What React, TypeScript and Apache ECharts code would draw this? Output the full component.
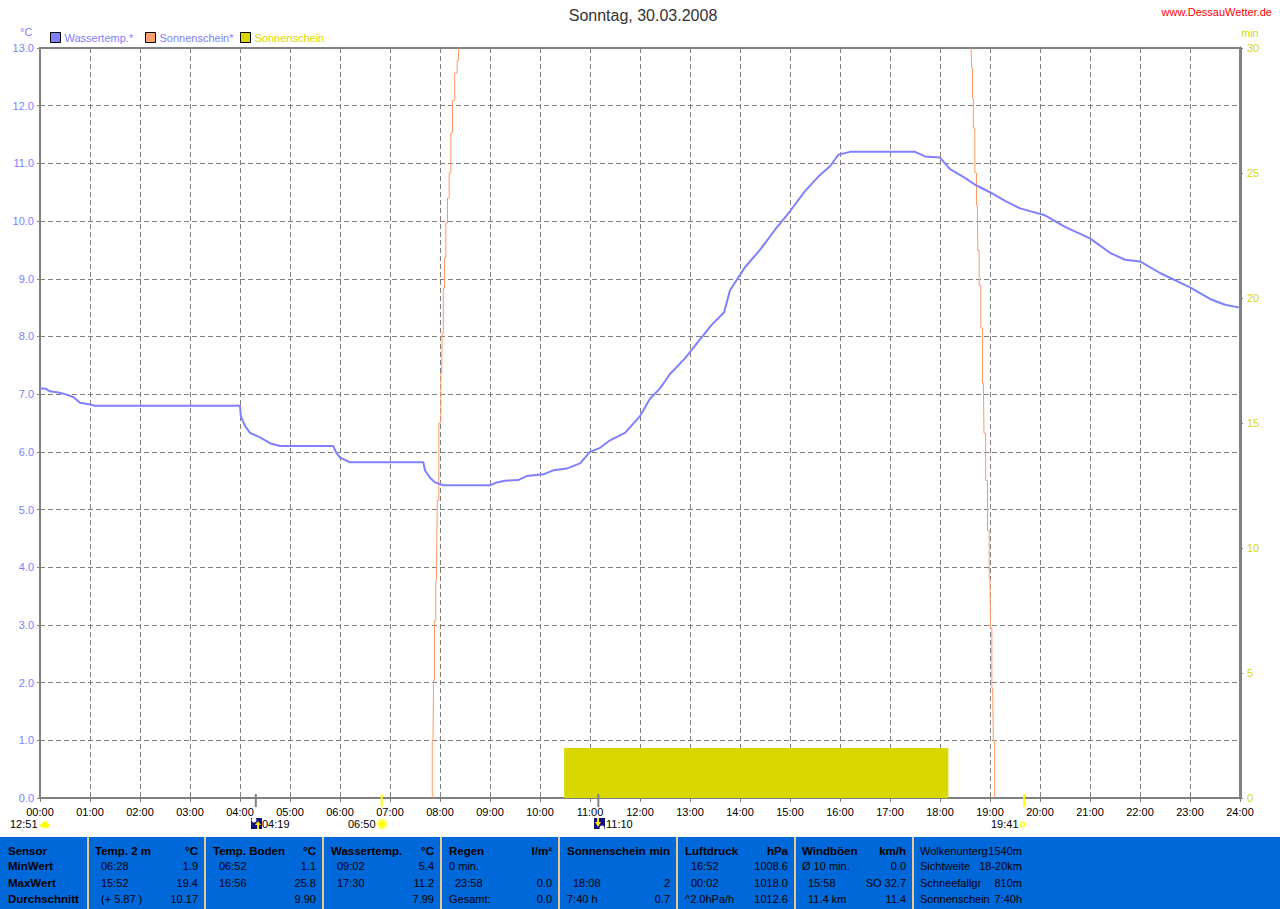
import React, { useEffect, useRef } from "react";
import * as echarts from "echarts";

const FONT = "'Liberation Sans', Arial, sans-serif";
const BLUE = "#8080ff";
const ORANGE = "#ff9966";
const YELLOW = "#d8d800";
const GRAY = "#808080";

const title = "Sonntag, 30.03.2008";
const site = "www.DessauWetter.de";
const hourLabels = Array.from({ length: 25 }, (_, h) => String(h).padStart(2, "0") + ":00");

// [minute of day, °C]
const waterTemp = [
  [0, 7.1], [6, 7.1], [12, 7.05], [22, 7.03], [30, 7.0], [40, 6.95], [48, 6.85], [60, 6.82], [66, 6.8],
  [240, 6.8], [241, 6.62], [246, 6.45], [252, 6.33], [264, 6.25], [276, 6.15], [288, 6.1],
  [352, 6.1], [355, 6.0], [360, 5.9], [372, 5.82], [460, 5.82], [462, 5.68], [468, 5.55], [474, 5.47], [484, 5.42],
  [540, 5.42], [548, 5.47], [558, 5.5], [574, 5.51], [584, 5.58], [604, 5.61], [616, 5.68], [632, 5.71],
  [648, 5.8], [660, 6.0], [672, 6.07], [684, 6.2], [702, 6.33], [720, 6.62], [732, 6.92], [744, 7.1],
  [756, 7.35], [774, 7.62], [792, 7.95], [806, 8.2], [821, 8.42], [828, 8.8], [846, 9.2], [864, 9.5],
  [882, 9.85], [900, 10.17], [918, 10.52], [936, 10.8], [948, 10.95], [958, 11.15], [972, 11.2],
  [1050, 11.2], [1062, 11.12], [1080, 11.1], [1092, 10.9], [1110, 10.75], [1122, 10.63], [1140, 10.5],
  [1158, 10.35], [1176, 10.22], [1206, 10.1], [1230, 9.9], [1260, 9.7], [1284, 9.45], [1302, 9.33],
  [1320, 9.3], [1344, 9.1], [1380, 8.85], [1404, 8.65], [1422, 8.55], [1440, 8.5],
];

// [minute of day, min]
const sunDerived = [
  [469.8, 0], [471.6, 2.3], [472.8, 4.7], [474, 7.1], [475.8, 8.7], [476.4, 10.3], [477.2, 11.9],
  [480, 15], [482, 17], [483.2, 18.6], [484.8, 20.4], [486, 21.6], [488, 23], [490, 24], [492, 25],
  [494, 26.6], [496, 27.9], [499.2, 29], [502, 29.5], [503, 30], [504.6, 30.5],
];
const sunDerivedEvening = [
  [1117.2, 30.1], [1118.8, 29.2], [1119.2, 28], [1120.8, 26.8], [1122.8, 25], [1124.8, 23.7], [1126, 21.9],
  [1128, 20.5], [1130, 18.8], [1132, 16.6], [1133.6, 14.6], [1136, 12.7], [1138, 10.7], [1140, 8.8],
  [1141.2, 6.8], [1143.2, 4.4], [1144.8, 2.3], [1146.4, 0],
];
const sunshine = [[629, 2], [1090, 2]];

// [minute of day, tick colour]
const eventTicks: [number, string][] = [[259, GRAY], [410, "#ffff00"], [670, GRAY], [1181, "#ffff00"]];
const eventLabels = ["12:51", "04:19", "06:50", "11:10", "19:41"];

const tableHeaders = [
  ["Sensor", ""], ["Temp. 2 m", "°C"], ["Temp. Boden", "°C"], ["Wassertemp.", "°C"], ["Regen", "l/m²"],
  ["Sonnenschein", "min"], ["Luftdruck", "hPa"], ["Windböen", "km/h"],
];
const rowNames = ["MinWert", "MaxWert", "Durchschnitt"];
// [left text, indent, right text] per row
const tableRows: [string, number, string][][] = [
  [["06:28", 6, "1.9"], ["15:52", 6, "19.4"], ["(+ 5.87 )", 6, "10.17"]],
  [["06:52", 6, "1.1"], ["16:56", 6, "25.8"], ["", 0, "9.90"]],
  [["09:02", 6, "5.4"], ["17:30", 6, "11.2"], ["", 0, "7.99"]],
  [["0 min.", 0, ""], ["23:58", 6, "0.0"], ["Gesamt:", 0, "0.0"]],
  [["", 0, ""], ["18:08", 6, "2"], ["7:40 h", 0, "0.7"]],
  [["16:52", 6, "1008.6"], ["00:02", 6, "1018.0"], ["^2.0hPa/h", 0, "1012.6"]],
  [["Ø 10 min.", 0, "0.0"], ["15:58", 6, "SO 32.7"], ["11.4 km", 6, "11.4"]],
];
const extraRows = [
  ["Wolkenunterg", "1540m"], ["Sichtweite", "18-20km"], ["Schneefallgr", "810m"], ["Sonnenschein", "7:40h"],
];

function tableGraphics(): any[] {
  const out: any[] = [{ type: "rect", shape: { x: 0, y: 837, width: 1280, height: 72 }, style: { fill: "#0068d8" } }];
  const seps = [88, 205, 323, 441, 559, 677, 795, 913];
  seps.forEach((x) =>
    out.push({ type: "rect", shape: { x: x - 1, y: 837, width: 2, height: 72 }, style: { fill: "#e8c890" } })
  );
  const rowY = [851, 866, 883, 899];
  const colL = [8, 95, 213, 331, 449, 567, 685, 802];
  const colR = [0, 198, 316, 434, 552, 670, 788, 906];
  const txt = (x: number, y: number, text: string, bold = false, align = "left") => ({
    type: "text",
    x,
    y,
    style: {
      text,
      fill: "#000",
      font: `${bold ? "bold 11.5px" : "11px"} ${FONT}`,
      textAlign: align,
      textVerticalAlign: "middle",
    },
  });
  tableHeaders.forEach((h, i) => {
    out.push(txt(colL[i], rowY[0], h[0], true));
    if (h[1]) out.push(txt(colR[i], rowY[0], h[1], true, "right"));
  });
  rowNames.forEach((n, r) => out.push(txt(8, rowY[r + 1], n, true)));
  tableRows.forEach((col, c) =>
    col.forEach((cell, r) => {
      if (cell[0]) out.push(txt(colL[c + 1] + cell[1], rowY[r + 1], cell[0]));
      if (cell[2]) out.push(txt(colR[c + 1], rowY[r + 1], cell[2], false, "right"));
    })
  );
  extraRows.forEach((row, r) => {
    out.push(txt(920, rowY[r], row[0]));
    out.push(txt(1022, rowY[r], row[1], false, "right"));
  });
  return out;
}

function eventGraphics(): any[] {
  const lab = (x: number, text: string) => ({
    type: "text",
    x,
    y: 824,
    style: { text, fill: "#000", font: `11px ${FONT}`, textVerticalAlign: "middle" },
  });
  const out: any[] = [
    lab(10, eventLabels[0]),
    lab(262, eventLabels[1]),
    lab(348, eventLabels[2]),
    lab(606, eventLabels[3]),
    lab(991, eventLabels[4]),
    // moon-phase cloud
    { type: "ellipse", shape: { cx: 45, cy: 825.5, rx: 5, ry: 2.5 }, style: { fill: "#ffff00" } },
    { type: "circle", shape: { cx: 45, cy: 823.5, r: 2.5 }, style: { fill: "#ffff00" } },
    // moonrise
    { type: "rect", shape: { x: 251, y: 818, width: 11, height: 11 }, style: { fill: "#101080" } },
    { type: "circle", shape: { cx: 254, cy: 820, r: 2.5 }, style: { fill: "#fff" } },
    { type: "polygon", shape: { points: [[258, 821], [261, 825], [259, 825], [259, 829], [257, 829], [257, 825], [255, 825]] }, style: { fill: "#ffe000" } },
    // sunrise
    { type: "circle", shape: { cx: 382, cy: 824, r: 6 }, style: { fill: "#ffffa0" } },
    { type: "circle", shape: { cx: 382, cy: 824, r: 3.5 }, style: { fill: "#ffff00" } },
    // moonset
    { type: "rect", shape: { x: 594, y: 818, width: 11, height: 11 }, style: { fill: "#101080" } },
    { type: "circle", shape: { cx: 602, cy: 828, r: 2.5 }, style: { fill: "#fff" } },
    { type: "polygon", shape: { points: [[598, 827], [601, 822], [599, 822], [599, 818], [597, 818], [597, 822], [595, 822]] }, style: { fill: "#ffe000" } },
    // sunset
    { type: "rect", shape: { x: 1020.5, y: 822.5, width: 4, height: 4 }, style: { fill: "none", stroke: "#ffff00", lineWidth: 1 } },
  ];
  return out;
}

export default function App() {
  const ref = useRef<HTMLDivElement>(null);
  useEffect(() => {
    document.body.style.margin = "0";
    document.body.style.background = "#fff";
    const chart = echarts.init(ref.current!, undefined, { renderer: "svg" });
    const axisFont = { fontFamily: FONT, fontSize: 11 };
    const dash = { type: [5, 3] as number[], color: GRAY, width: 1 };
    const legendAt = (left: number, name: string, fill: string, textColor: string) => ({
      left,
      top: 32,
      itemWidth: 10,
      itemHeight: 10,
      padding: 0,
      selectedMode: false,
      textStyle: { ...axisFont, padding: [0, 0, 0, -1] },
      data: [{ name, icon: "rect", itemStyle: { color: fill, borderColor: "#000", borderWidth: 1 }, textStyle: { color: textColor } }],
    });
    chart.setOption({
      animation: false,
      backgroundColor: "#fff",
      title: {
        text: title,
        left: 638,
        top: 2,
        textAlign: "center",
        textStyle: { fontFamily: FONT, fontSize: 16, fontWeight: "normal", color: "#333" },
      },
      legend: [
        legendAt(50, "Wassertemp.*", BLUE, BLUE),
        legendAt(145, "Sonnenschein*", "#ffa070", BLUE),
        legendAt(240, "Sonnenschein", YELLOW, YELLOW),
      ],
      grid: { left: 40, right: 40, top: 48, bottom: 111, show: true, borderColor: GRAY, borderWidth: 2, backgroundColor: "transparent" },
      xAxis: {
        type: "value",
        min: 0,
        max: 1440,
        interval: 60,
        axisLine: { show: true, lineStyle: { color: GRAY, width: 2 } },
        axisTick: { show: true, length: 4, lineStyle: { color: GRAY } },
        axisLabel: { ...axisFont, color: "#000", margin: 8, formatter: (v: number) => hourLabels[v / 60], hideOverlap: false },
        splitLine: { show: true, lineStyle: dash },
      },
      yAxis: [
        {
          type: "value",
          min: 0,
          max: 13,
          interval: 1,
          axisLine: { show: true, lineStyle: { color: GRAY, width: 2 } },
          axisTick: { show: true, length: 3, lineStyle: { color: GRAY } },
          axisLabel: { ...axisFont, color: BLUE, margin: 6, formatter: (v: number) => v.toFixed(1) },
          splitLine: { show: true, lineStyle: dash },
        },
        {
          type: "value",
          min: 0,
          max: 30,
          interval: 5,
          position: "right",
          axisLine: { show: true, lineStyle: { color: GRAY, width: 3 } },
          axisTick: { show: true, length: 3, lineStyle: { color: GRAY } },
          axisLabel: { ...axisFont, color: YELLOW, margin: 7 },
          splitLine: { show: false },
        },
      ],
      series: [
        {
          name: "Sonnenschein",
          type: "line",
          yAxisIndex: 1,
          data: sunshine,
          showSymbol: false,
          lineStyle: { width: 0 },
          itemStyle: { color: YELLOW },
          areaStyle: { color: YELLOW, opacity: 1 },
          z: 2,
        },
        {
          name: "Sonnenschein*",
          type: "line",
          yAxisIndex: 1,
          step: "middle",
          data: sunDerived,
          showSymbol: false,
          lineStyle: { color: ORANGE, width: 1 },
          itemStyle: { color: ORANGE },
          z: 3,
        },
        {
          name: "Sonnenschein* ",
          type: "line",
          yAxisIndex: 1,
          step: "middle",
          data: sunDerivedEvening,
          showSymbol: false,
          lineStyle: { color: ORANGE, width: 1 },
          itemStyle: { color: ORANGE },
          z: 3,
        },
        {
          name: "Wassertemp.*",
          type: "line",
          yAxisIndex: 0,
          data: waterTemp,
          showSymbol: false,
          lineStyle: { color: BLUE, width: 2 },
          itemStyle: { color: BLUE },
          z: 4,
        },
        {
          name: "events",
          type: "custom",
          yAxisIndex: 0,
          clip: false,
          data: eventTicks.map((e) => [e[0], 0]),
          silent: true,
          z: 5,
          renderItem: (params: any, api: any) => {
            const p = api.coord([api.value(0), 0]);
            return {
              type: "line",
              shape: { x1: p[0], y1: p[1] - 4, x2: p[0], y2: p[1] + 9 },
              style: { stroke: eventTicks[params.dataIndex][1], lineWidth: 2 },
            };
          },
        },
      ],
      graphic: [
        { type: "text", x: 20, y: 32, style: { text: "°C", fill: BLUE, font: `11px ${FONT}`, textVerticalAlign: "middle" } },
        { type: "text", x: 1241, y: 33, style: { text: "min", fill: YELLOW, font: `11px ${FONT}`, textVerticalAlign: "middle" } },
        { type: "text", x: 1272, y: 12, style: { text: site, fill: "#ff0000", font: `11px ${FONT}`, textAlign: "right", textVerticalAlign: "middle" } },
        ...eventGraphics(),
        ...tableGraphics(),
      ],
    });
    return () => chart.dispose();
  }, []);
  return <div ref={ref} style={{ width: 1280, height: 909 }} />;
}
